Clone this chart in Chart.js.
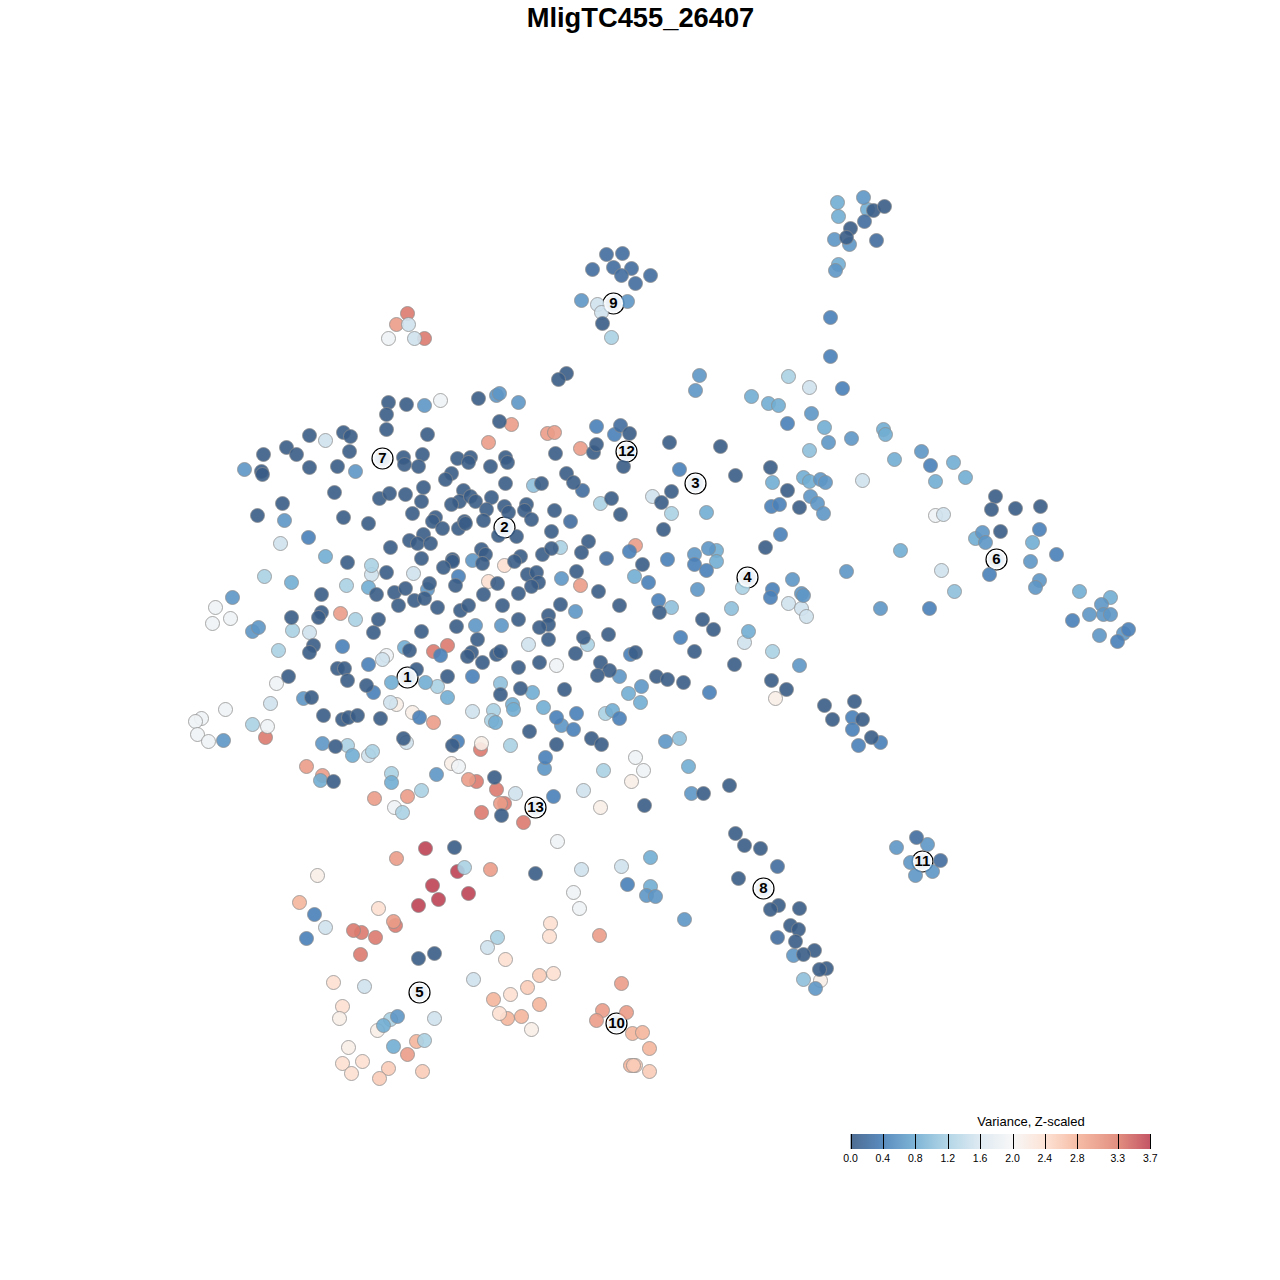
<!DOCTYPE html>
<html>
<head>
<meta charset="utf-8">
<style>html,body{margin:0;padding:0;background:#fff}canvas{display:block}</style>
<script src="https://cdn.jsdelivr.net/npm/chart.js@4"></script>
</head>
<body>
<canvas id="c" width="1280" height="1280"></canvas>
<script>
const chartTitle = "MligTC455_26407";
const legendTitle = "Variance, Z-scaled";
const legendTicks = [0.0,0.4,0.8,1.2,1.6,2.0,2.4,2.8,3.3,3.7];
const legendColors = ["#4d6c92","#5b8cbf","#7fb5d6","#b3d6e7","#dfeaf2","#f7f7f7","#fde3d6","#f6bda6","#e28f80","#c45565"];

const var00 = [[388,402],[406,404],[386,414],[386,429],[427,434],[309,435],[343,432],[350,436],[349,451],[286,447],[296,454],[263,454],[261,471],[262,474],[309,467],[337,466],[403,457],[404,464],[422,454],[418,466],[457,458],[470,457],[468,462],[490,466],[451,473],[445,479],[334,492],[379,498],[389,493],[405,494],[423,487],[421,501],[463,490],[459,501],[451,504],[470,496],[475,501],[491,497],[486,509],[412,513],[282,503],[257,515],[343,517],[368,523],[435,517],[432,521],[442,528],[458,528],[464,521],[465,523],[483,520],[409,540],[423,534],[417,543],[430,543],[390,547],[421,558],[452,559],[452,561],[443,567],[481,549],[485,554],[482,563],[347,562],[386,572],[376,594],[394,592],[405,588],[398,605],[414,600],[424,598],[429,583],[455,585],[483,594],[437,607],[460,610],[468,605],[321,594],[291,617],[321,612],[318,617],[378,619],[373,632],[421,631],[456,626],[477,639],[409,650],[313,645],[309,652],[471,652],[467,656],[482,662],[496,654],[500,651],[416,669],[447,676],[288,676],[337,668],[344,668],[347,680],[366,685],[311,697],[323,715],[342,719],[348,717],[357,715],[380,718],[403,738],[452,745],[335,746],[333,781],[494,777],[501,815],
[566,373],[558,379],[478,398],[499,421],[555,453],[593,452],[596,444],[629,433],[669,442],[720,446],[735,475],[623,466],[566,473],[573,482],[611,498],[620,514],[671,491],[661,502],[663,529],[541,483],[505,483],[505,457],[507,462],[504,506],[508,512],[498,535],[516,536],[526,504],[524,510],[531,519],[554,510],[551,531],[588,541],[581,552],[542,554],[551,548],[520,556],[514,561],[497,583],[518,593],[527,574],[536,572],[538,582],[531,586],[576,571],[598,591],[642,564],[619,605],[560,604],[502,605],[659,612],[702,619],[518,619],[548,615],[548,624],[539,627],[548,639],[575,653],[583,637],[608,634],[518,667],[539,662],[600,662],[609,670],[597,675],[635,652],[713,629],[694,651],[734,664],[656,676],[667,679],[683,682],[520,688],[500,694],[564,689],[771,680],[786,689],[529,731],[556,744],[591,738],[601,744],[644,805],[703,793],[729,785],[735,833],[744,845],[760,848],[738,878],[778,905],[770,909],[799,908],[790,925],[798,929],[795,941],[814,950],[803,954],[826,968],[819,969],
[770,467],[787,490],[799,507],[765,547],[995,496],[991,509],[1015,508],[1040,506],[1000,531],[824,705],[854,701],[832,719],[862,719],[871,737],[873,210],[884,206],[850,228],[846,237],[602,323],[454,847],[535,873],[434,953],[418,958]];
const var02 = [[606,254],[622,253],[592,269],[613,267],[631,268],[621,275],[635,283],[650,275],[864,221],[876,240],[916,837],[940,860],[777,866],[606,558],[570,521],[620,425],[582,490],[777,937]];
const var04 = [[830,317],[830,356],[842,388],[787,423],[930,465],[771,506],[779,504],[780,534],[1039,529],[1056,554],[989,574],[772,589],[770,597],[929,608],[1072,620],[1117,641],[1128,629],[596,426],[614,434],[679,469],[629,551],[667,559],[648,582],[694,564],[706,570],[658,600],[680,637],[619,718],[556,717],[573,729],[576,713],[545,757],[553,796],[709,692],[630,654],[472,676],[458,576],[342,646],[368,664],[440,655],[373,692],[419,717],[457,741],[308,537],[314,914],[306,938],[852,717],[852,729],[880,742],[858,745],[627,884]];
const var06 = [[244,469],[355,471],[424,405],[284,520],[472,560],[427,589],[232,597],[252,631],[258,627],[303,698],[223,740],[322,743],[436,774],[475,625],[501,625],[561,578],[575,611],[694,554],[708,548],[697,589],[619,676],[641,686],[561,725],[544,768],[665,741],[691,793],[496,395],[499,393],[518,402],[699,375],[695,390],[811,413],[828,442],[851,438],[921,451],[820,479],[825,482],[810,496],[817,503],[823,513],[982,532],[985,542],[1030,561],[1039,580],[1035,587],[846,571],[880,608],[792,579],[801,593],[803,595],[1101,604],[1089,614],[1103,614],[1110,614],[1099,635],[1123,633],[799,665],[863,197],[834,239],[849,244],[835,270],[581,300],[627,301],[896,847],[927,844],[910,862],[932,871],[915,875],[646,895],[655,896],[684,919],[793,955],[815,988],[397,1016]];
const var08 = [[751,396],[768,403],[778,405],[824,427],[883,429],[885,434],[894,459],[953,462],[935,481],[965,477],[772,482],[803,477],[809,481],[706,512],[325,556],[291,582],[368,587],[404,647],[391,682],[425,682],[447,697],[532,692],[543,707],[512,704],[513,709],[628,693],[640,702],[634,576],[716,550],[716,561],[748,631],[612,710],[495,722],[352,755],[391,782],[320,780],[688,766],[837,202],[838,216],[867,209],[838,264],[975,538],[1032,542],[900,550],[1079,591],[1110,597],[650,857],[650,886],[383,1025],[393,1046]];
const var10 = [[809,450],[954,591],[533,485],[671,607],[731,608],[679,738],[803,979],[500,683]];
const var12 = [[355,619],[292,630],[278,650],[264,576],[346,585],[371,565],[437,686],[493,710],[491,720],[252,724],[347,745],[372,751],[391,773],[421,790],[402,812],[510,745],[603,770],[605,713],[600,503],[671,513],[560,547],[587,644],[742,587],[788,376],[772,651],[611,337],[497,937],[464,867],[424,1040],[390,1019]];
const var15 = [[325,440],[371,574],[413,573],[280,543],[309,632],[382,659],[390,702],[270,703],[472,711],[368,755],[406,742],[528,644],[788,603],[801,608],[806,616],[744,642],[941,570],[809,387],[862,480],[943,514],[652,496],[583,790],[515,793],[597,304],[601,312],[408,324],[414,338],[581,869],[621,866],[473,979],[434,1018],[487,947],[364,986],[325,927]];
const var18 = [[440,400],[215,607],[230,618],[212,623],[276,683],[386,655],[225,709],[201,718],[195,721],[197,734],[208,741],[267,726],[458,766],[556,665],[635,757],[643,770],[394,807],[557,841],[573,892],[579,908],[388,338],[935,515]];
const var21 = [[396,704],[412,712],[481,743],[451,763],[631,781],[600,807],[775,698],[317,875],[377,1030],[348,1047],[339,1018],[531,1029],[820,980]];
const var24 = [[504,565],[488,581],[378,908],[550,923],[549,936],[505,959],[553,973],[333,982],[510,994],[342,1006],[499,1013],[342,1063],[362,1061],[351,1073]];
const var26 = [[539,975],[527,987],[388,1068],[422,1071],[379,1078],[649,1071],[635,1065],[633,1065]];
const var28 = [[299,902],[493,999],[539,1004],[507,1018],[521,1016],[416,1041],[630,1065],[649,1048],[632,1033],[642,1032]];
const var30 = [[488,442],[511,424],[547,433],[554,432],[580,448],[635,545],[580,585],[340,613],[396,858],[490,869],[306,766],[322,775],[468,779],[374,798],[407,796],[500,803],[433,722],[599,935],[621,983],[602,1010],[626,1012],[596,1020],[407,1054],[396,324],[393,921]];
const var33 = [[433,651],[447,645],[265,737],[480,749],[476,781],[496,789],[504,803],[523,822],[481,812],[407,313],[424,338],[395,925],[361,932],[375,937],[360,954],[353,930]];
const var37 = [[425,848],[457,871],[432,885],[438,899],[468,893],[418,905]];

const clusterNames = ["1","2","3","4","5","6","7","8","9","10","11","12","13"];
const clusterX = [407,504,695,747,419,996,382,763,613,616,922,626,535];
const clusterY = [677,527,483,577,992,559,458,888,303,1023,861,451,807];

const groups = [[0.0,var00],[0.2,var02],[0.4,var04],[0.6,var06],[0.8,var08],[1.0,var10],[1.2,var12],[1.5,var15],[1.9,var18],[2.15,var21],[2.4,var24],[2.6,var26],[2.8,var28],[3.05,var30],[3.35,var33],[3.7,var37]];
const alpha = 0.9;

function hex(c){return [1,3,5].map(i=>parseInt(c.substr(i,2),16));}
function blended(z){
  let i=0; while(i<legendTicks.length-2 && z>legendTicks[i+1]) i++;
  const t=(z-legendTicks[i])/(legendTicks[i+1]-legendTicks[i]);
  const a=hex(legendColors[i]), b=hex(legendColors[i+1]);
  return a.map((v,k)=>v+(b[k]-v)*t);
}
function fillFor(z){
  const c=blended(z).map(v=>Math.max(0,Math.round((v-255*(1-alpha))/alpha)));
  return `rgba(${c[0]},${c[1]},${c[2]},${alpha})`;
}

const datasets = groups.map(([z,pts])=>({
  label:"Variance "+z,
  data:pts.map(p=>({x:p[0],y:p[1]})),
  backgroundColor:fillFor(z),
  borderColor:"rgba(140,140,140,0.75)",
  borderWidth:1,
  pointRadius:7,
  pointHoverRadius:7,
  clip:false
}));
datasets.push({
  label:"Clusters",
  data:clusterX.map((x,i)=>({x,y:clusterY[i]})),
  backgroundColor:"#ffffff",
  borderColor:"#000000",
  borderWidth:1.2,
  pointRadius:10.5,
  pointHoverRadius:10.5,
  clip:false
});

const annotate = {
  id:"annotate",
  beforeDraw(chart){
    const ctx=chart.ctx;
    ctx.save(); ctx.fillStyle="#ffffff"; ctx.fillRect(0,0,chart.width,chart.height); ctx.restore();
  },
  afterDatasetsDraw(chart){
    const ctx=chart.ctx, sx=chart.scales.x, sy=chart.scales.y;
    ctx.save();
    ctx.textAlign="center"; ctx.textBaseline="middle";
    clusterNames.forEach((n,i)=>{
      const x=sx.getPixelForValue(clusterX[i]), y=sy.getPixelForValue(clusterY[i]);
      const g=ctx.createRadialGradient(x,y,1,x,y,9.5);
      g.addColorStop(0,"#e3ebf3"); g.addColorStop(0.7,"#eef3f7"); g.addColorStop(1,"#ffffff");
      ctx.fillStyle=g; ctx.beginPath(); ctx.arc(x,y,9.5,0,Math.PI*2); ctx.fill();
      ctx.fillStyle="#000"; ctx.font='bold 15px "Liberation Sans", Arial, sans-serif';
      ctx.fillText(n,x,y+0.5);
    });
    // title
    ctx.font='bold 27.3px "Liberation Sans", Arial, sans-serif';
    ctx.fillText(chartTitle,640.5,19);
    // colour bar
    const x0=850.5, k=81, top=1134, h=15;
    const xp=v=>x0+v*k;
    const grad=ctx.createLinearGradient(xp(0),0,xp(3.7),0);
    legendTicks.forEach((t,i)=>grad.addColorStop(t/3.7,legendColors[i]));
    ctx.fillStyle=grad; ctx.fillRect(xp(0),top,3.7*k,h);
    ctx.strokeStyle="#000"; ctx.lineWidth=1;
    ctx.fillStyle="#000"; ctx.font='10.5px "Liberation Sans", Arial, sans-serif';
    legendTicks.forEach(t=>{
      const x=Math.round(xp(t))+0.5;
      ctx.beginPath(); ctx.moveTo(x,top); ctx.lineTo(x,top+h); ctx.stroke();
      ctx.fillText(t.toFixed(1),xp(t),1159.5);
    });
    ctx.font='13px "Liberation Sans", Arial, sans-serif';
    ctx.fillText(legendTitle,1031,1122.5);
    ctx.restore();
  }
};

const canvas = document.getElementById("c");
canvas.getContext("2d",{alpha:false});
new Chart(canvas,{
  type:"scatter",
  data:{datasets},
  options:{
    responsive:false,
    animation:false,
    layout:{padding:0,autoPadding:false},
    plugins:{legend:{display:false},tooltip:{enabled:false},title:{display:false}},
    scales:{
      x:{type:"linear",min:-0.5,max:1279.5,display:false},
      y:{type:"linear",min:-0.5,max:1279.5,reverse:true,display:false}
    }
  },
  plugins:[annotate]
});
</script>
</body>
</html>
